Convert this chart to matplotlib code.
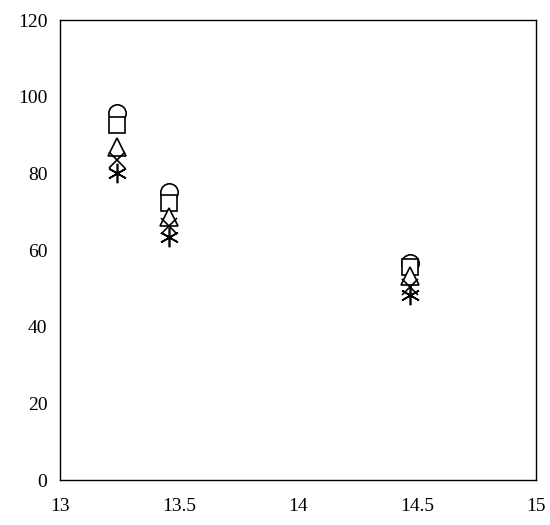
import matplotlib.pyplot as plt

plt.rcParams["font.family"] = ["Liberation Serif", "DejaVu Serif"]

# x positions of the three groups
x_vals = [13.24, 13.46, 14.47]

# five series, one marker each
circle_y = [95.8, 75.2, 56.6]
square_y = [92.7, 72.3, 55.7]
triangle_y = [87.0, 68.7, 53.3]
cross_y = [83.5, 66.4, 50.4]
aster_y = [80.2, 63.5, 48.3]

fig = plt.figure(figsize=(5.5, 5.25), dpi=100)
ax = fig.add_axes([0.109, 0.0857, 0.866, 0.876])

kw = dict(linestyle="none", color="black", markeredgewidth=1.2)
ax.plot(x_vals, circle_y, marker="o", markersize=12.5,
        markerfacecolor="white", zorder=3, **kw)
ax.plot(x_vals, square_y, marker="s", markersize=12,
        markerfacecolor="white", zorder=4, **kw)
ax.plot(x_vals, triangle_y, marker="^", markersize=12.5,
        markerfacecolor="white", zorder=5, **kw)
ax.plot(x_vals, cross_y, marker="x", markersize=12, zorder=6, **kw)
ax.plot(x_vals, aster_y, marker=(6, 2, 0), markersize=14, zorder=7, **kw)

ax.set_xlim(13, 15)
ax.set_ylim(0, 120)
ax.set_xticks([13, 13.5, 14, 14.5, 15])
ax.set_xticklabels(["13", "13.5", "14", "14.5", "15"])
ax.set_yticks([0, 20, 40, 60, 80, 100, 120])
ax.tick_params(axis="both", length=0, labelsize=14)
ax.tick_params(axis="x", pad=13)
ax.tick_params(axis="y", pad=9)
for s in ax.spines.values():
    s.set_linewidth(1.0)

fig.savefig("out.png", dpi=100)
